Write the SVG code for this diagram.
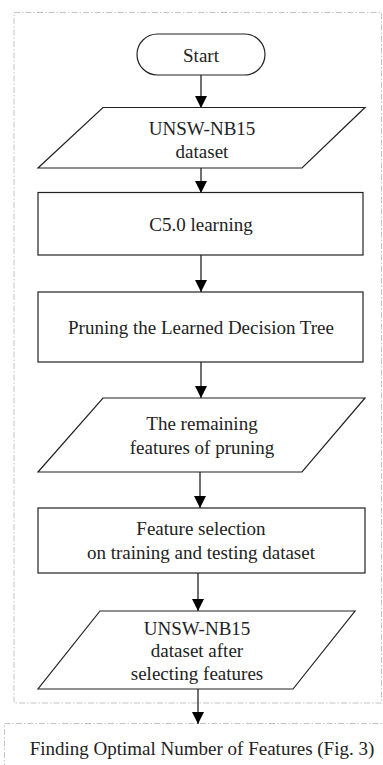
<svg xmlns="http://www.w3.org/2000/svg" width="383" height="765" viewBox="0 0 383 765">
<style>
.frame{fill:none;stroke:#c4c4c4;stroke-width:1;stroke-dasharray:6 2 1.5 2}
.shape{fill:#fff;stroke:#222;stroke-width:1.2}
.conn{stroke:#111;stroke-width:1.2;fill:none}
text{font-family:"Liberation Serif","Times New Roman",serif;font-size:19px;fill:#222;text-anchor:middle;dominant-baseline:central}
</style>
<defs>
<marker id="ah" markerWidth="12" markerHeight="12" refX="12" refY="6" orient="auto" markerUnits="userSpaceOnUse">
<path d="M0,0 L12,6 L0,12 Z" fill="#000"/>
</marker>
</defs>
<rect width="383" height="765" fill="#fff"/>
<g id="frame-outer"><rect class="frame" x="14" y="12.5" width="367.5" height="690.5"/></g>
<g id="frame-bottom"><path class="frame" d="M390,723.5 H4.5 V770"/></g>
<g id="connectors">
<line class="conn" x1="201" y1="75" x2="201" y2="108" marker-end="url(#ah)"/>
<line class="conn" x1="201" y1="168" x2="201" y2="193" marker-end="url(#ah)"/>
<line class="conn" x1="201" y1="255" x2="201" y2="292" marker-end="url(#ah)"/>
<line class="conn" x1="201" y1="362" x2="201" y2="398" marker-end="url(#ah)"/>
<line class="conn" x1="200" y1="472" x2="200" y2="508" marker-end="url(#ah)"/>
<line class="conn" x1="198" y1="573" x2="198" y2="611" marker-end="url(#ah)"/>
<line class="conn" x1="198" y1="689" x2="198" y2="724" marker-end="url(#ah)"/>
</g>
<g id="start">
<rect class="shape" x="137" y="34" width="128" height="41" rx="20.5"/>
<text x="201" y="55">Start</text>
</g>
<g id="dataset">
<polygon class="shape" points="103,107.5 365,107.5 302,168 38,168"/>
<text x="202" y="128">UNSW-NB15</text>
<text x="202" y="151">dataset</text>
</g>
<g id="c50">
<rect class="shape" x="38" y="192.5" width="325" height="62.5"/>
<text x="201" y="224">C5.0 learning</text>
</g>
<g id="pruning">
<rect class="shape" x="38" y="292" width="325" height="70"/>
<text x="201" y="327">Pruning the Learned Decision Tree</text>
</g>
<g id="remaining">
<polygon class="shape" points="103,398 365,398 302,472 38,472"/>
<text x="202" y="423">The remaining</text>
<text x="202" y="447">features of pruning</text>
</g>
<g id="selection">
<rect class="shape" x="38" y="508" width="327" height="65"/>
<text x="201" y="528">Feature selection</text>
<text x="201" y="552">on training and testing dataset</text>
</g>
<g id="dataset-after">
<polygon class="shape" points="100,611 355,611 293,689 38,689"/>
<text x="197" y="628">UNSW-NB15</text>
<text x="197" y="650">dataset after</text>
<text x="197" y="673">selecting features</text>
</g>
<g id="optimal">
<text x="202" y="748">Finding Optimal Number of Features (Fig. 3)</text>
</g>
</svg>
